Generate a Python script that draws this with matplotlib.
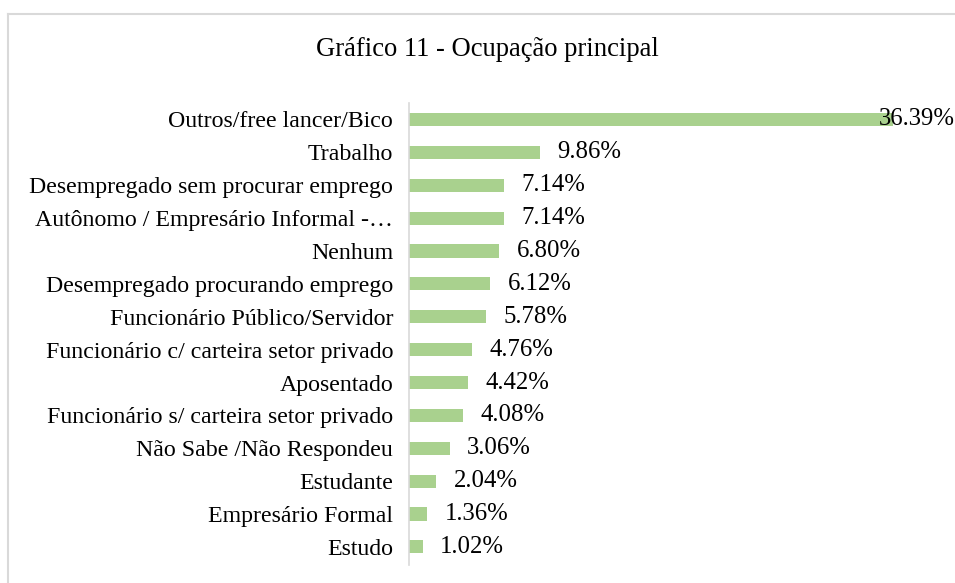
import matplotlib.pyplot as plt
from matplotlib.lines import Line2D

# ==============================
# DATA
# ==============================
TITLE = "Gráfico 11 - Ocupação principal"
categories = [
    "Outros/free lancer/Bico",
    "Trabalho",
    "Desempregado sem procurar emprego",
    "Autônomo / Empresário Informal -…",
    "Nenhum",
    "Desempregado procurando emprego",
    "Funcionário Público/Servidor",
    "Funcionário c/ carteira setor privado",
    "Aposentado",
    "Funcionário s/ carteira setor privado",
    "Não Sabe /Não Respondeu",
    "Estudante",
    "Empresário Formal",
    "Estudo",
]
values = [36.39, 9.86, 7.14, 7.14, 6.80, 6.12, 5.78, 4.76, 4.42, 4.08, 3.06, 2.04, 1.36, 1.02]

BAR_COLOR = "#a9d18e"
FONT = "Liberation Serif"

# ==============================
# PLOT
# ==============================
fig = plt.figure(figsize=(9.55, 5.83), dpi=100)
fig.patch.set_facecolor("white")
ax = fig.add_axes([409 / 955, 1 - 565 / 583, 1 - 409 / 955, (565 - 103) / 583])

pos = list(range(len(categories)))
ax.barh(pos, values, height=0.4, color=BAR_COLOR)
ax.set_ylim(len(categories) - 0.45, -0.5)
ax.set_xlim(0, (955 - 409) / 13.3)

ax.set_yticks(pos)
ax.set_yticklabels(categories, fontfamily=FONT, fontsize=17.2)
ax.tick_params(axis="y", length=0, pad=11.5)
ax.set_xticks([])

for p, v in zip(pos, values):
    # the long bar's label does not fit, so it sits over the bar end
    dx = -10 if v > 20 else 12.5
    ax.annotate(f"{v:.2f}%", (v, p), xytext=(dx, 0), textcoords="offset points",
                va="center", ha="left", fontfamily=FONT, fontsize=17.8,
                annotation_clip=False)

for side in ["top", "right", "bottom"]:
    ax.spines[side].set_visible(False)
ax.spines["left"].set_color("#d9d9d9")
ax.spines["left"].set_linewidth(1.2)

fig.text(487 / 955, 1 - 50 / 583, TITLE, ha="center", va="center",
         fontfamily=FONT, fontsize=19.2)

# outer chart border (left and top only visible)
fig.add_artist(Line2D([8 / 955, 8 / 955], [0, 1 - 14 / 583], color="#d9d9d9", lw=1.5))
fig.add_artist(Line2D([8 / 955, 1], [1 - 14 / 583, 1 - 14 / 583], color="#d9d9d9", lw=1.5))

fig.savefig("out.png", dpi=100, facecolor="white")
